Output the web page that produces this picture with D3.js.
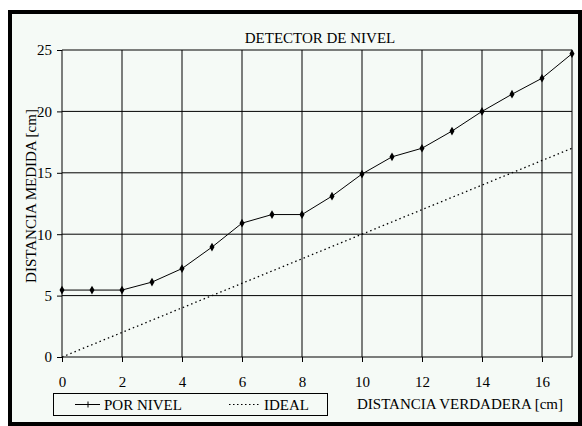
<!DOCTYPE html>
<html>
<head>
<meta charset="utf-8">
<script src="https://cdnjs.cloudflare.com/ajax/libs/d3/7.8.5/d3.min.js"></script>
<style>
body { margin: 0; background: #fff; }
svg { display: block; }
</style>
</head>
<body>
<div id="chart"></div>
<script>
// distancia verdadera (cm)
var distVerdadera = [0, 1, 2, 3, 4, 5, 6, 7, 8, 9, 10, 11, 12, 13, 14, 15, 16, 17];
// lectura del detector de nivel (cm)
var porNivel = [5.45, 5.45, 5.45, 6.1, 7.2, 8.95, 10.9, 11.6, 11.6, 13.1, 14.9, 16.3, 17.0, 18.4, 20.0, 21.4, 22.7, 24.7];
// respuesta ideal
var ideal = [0, 17];
var idealX = [0, 17];

var xTicks = [0, 2, 4, 6, 8, 10, 12, 14, 16];
var yTicks = [0, 5, 10, 15, 20, 25];

var titulo = "DETECTOR DE NIVEL";
var tituloX = "DISTANCIA VERDADERA [cm]";
var tituloY = "DISTANCIA MEDIDA [cm]";
var leyenda = ["POR NIVEL", "IDEAL"];

var width = 582, height = 426;
var fuente = "'Liberation Serif', 'Times New Roman', Times, 'DejaVu Serif', serif";

var svg = d3.select('#chart').append('svg')
    .attr('width', width)
    .attr('height', height)
    .style('font-family', fuente)
    .style('font-size', '15px');

// marco
svg.append('rect')
    .attr('x', 10).attr('y', 12)
    .attr('width', 570).attr('height', 412)
    .style('fill', '#f5faf6')
    .style('stroke', '#000')
    .style('stroke-width', 4);

var x = d3.scaleLinear().domain([0, 17]).range([62, 572]);
var y = d3.scaleLinear().domain([0, 25]).range([357, 50]);

// rejilla
svg.append('g').selectAll('line').data(xTicks.filter(function (d) { return d > 0; }))
    .enter().append('line')
    .attr('x1', function (d) { return x(d); })
    .attr('x2', function (d) { return x(d); })
    .attr('y1', y(0)).attr('y2', y(25))
    .style('stroke', '#000').style('stroke-width', 1);

svg.append('g').selectAll('line').data(yTicks.filter(function (d) { return d > 0; }))
    .enter().append('line')
    .attr('x1', x(0)).attr('x2', x(17))
    .attr('y1', function (d) { return y(d); })
    .attr('y2', function (d) { return y(d); })
    .style('stroke', '#000').style('stroke-width', 1);

// borde derecho del area
svg.append('line')
    .attr('x1', x(17)).attr('x2', x(17))
    .attr('y1', y(0)).attr('y2', y(25))
    .style('stroke', '#000');

// ejes
var gx = svg.append('g')
    .attr('transform', 'translate(0,' + y(0) + ')')
    .call(d3.axisBottom(x).tickValues(xTicks).tickSize(5).tickPadding(14).tickFormat(d3.format('d')));
var gy = svg.append('g')
    .attr('transform', 'translate(' + x(0) + ',0)')
    .call(d3.axisLeft(y).tickValues(yTicks).tickSize(5).tickPadding(5).tickFormat(d3.format('d')));

[gx, gy].forEach(function (g) {
    g.attr('font-size', null).attr('font-family', null);
    g.selectAll('text').style('font-family', fuente).style('font-size', '15px').style('fill', '#000');
    g.selectAll('path, line').style('stroke', '#000');
    g.select('.domain').attr('d', g === gx ? 'M' + x(0) + ',0H' + x(17) : 'M0,' + y(0) + 'V' + y(25));
});

// ideal
var idealLine = d3.line()
    .x(function (d, i) { return x(idealX[i]); })
    .y(function (d) { return y(d); });
svg.append('path')
    .attr('d', idealLine(ideal))
    .style('fill', 'none')
    .style('stroke', '#000')
    .style('stroke-width', 1.3)
    .style('stroke-dasharray', '1.5,3');

// por nivel
var nivelLine = d3.line()
    .x(function (d, i) { return x(distVerdadera[i]); })
    .y(function (d) { return y(d); });
svg.append('path')
    .attr('d', nivelLine(porNivel))
    .style('fill', 'none')
    .style('stroke', '#000')
    .style('stroke-width', 1);

svg.append('g').selectAll('path').data(porNivel)
    .enter().append('path')
    .attr('d', d3.symbol().type(d3.symbolDiamond).size(22))
    .attr('transform', function (d, i) { return 'translate(' + x(distVerdadera[i]) + ',' + y(d) + ')'; })
    .style('fill', '#000');

// titulos
svg.append('text')
    .attr('x', 320).attr('y', 43)
    .attr('text-anchor', 'middle')
    .text(titulo);

svg.append('text')
    .attr('x', 460).attr('y', 409)
    .attr('text-anchor', 'middle')
    .text(tituloX);

svg.append('text')
    .attr('transform', 'translate(36,196) rotate(-90)')
    .attr('text-anchor', 'middle')
    .text(tituloY);

// leyenda
var leg = svg.append('g');
leg.append('rect')
    .attr('x', 53.5).attr('y', 393.5)
    .attr('width', 274).attr('height', 22)
    .style('fill', 'none')
    .style('stroke', '#000');
leg.append('line')
    .attr('x1', 75).attr('x2', 100).attr('y1', 404.5).attr('y2', 404.5)
    .style('stroke', '#000');
leg.append('line')
    .attr('x1', 88).attr('x2', 88).attr('y1', 401.5).attr('y2', 407.5)
    .style('stroke', '#000');
leg.append('text').attr('x', 104).attr('y', 410).text(leyenda[0]);
leg.append('line')
    .attr('x1', 229).attr('x2', 260).attr('y1', 404.5).attr('y2', 404.5)
    .style('stroke', '#000')
    .style('stroke-width', 1.2)
    .style('stroke-dasharray', '1.5,2.5');
leg.append('text').attr('x', 264).attr('y', 410).text(leyenda[1]);
</script>
</body>
</html>
